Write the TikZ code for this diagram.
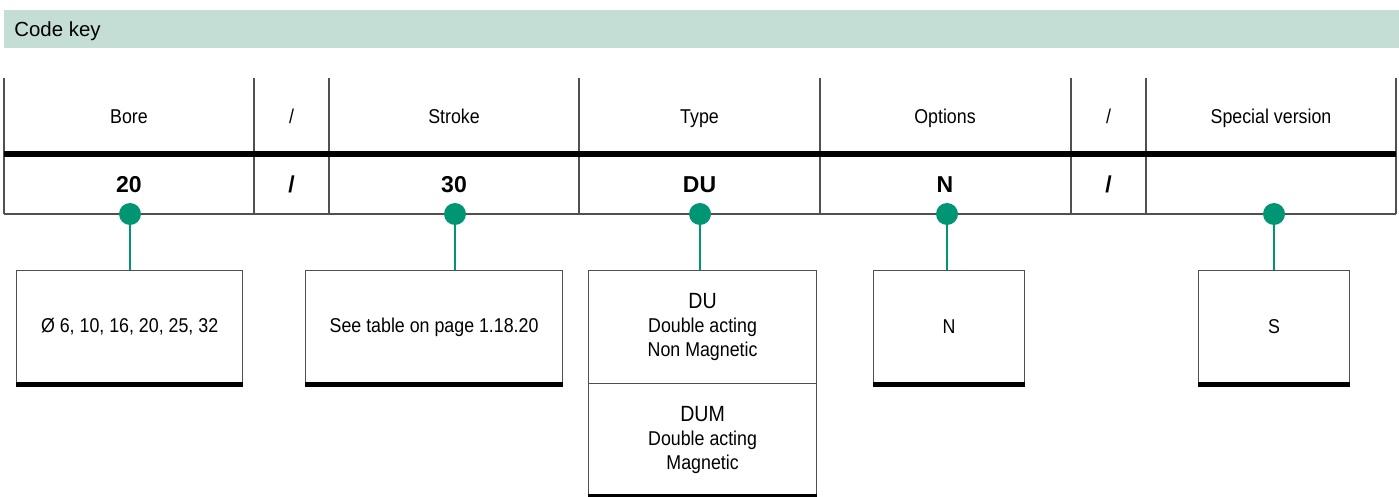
\documentclass[tikz,border=0pt]{standalone}
\usepackage{fontspec}
\setmainfont{Liberation Sans}
\newfontfamily\keyfont[FakeStretch=0.89]{Liberation Sans}
\definecolor{keyhead}{RGB}{197,222,213}
\definecolor{keygreen}{RGB}{0,150,115}
\definecolor{rulegray}{RGB}{80,80,80}

\begin{document}
\begin{tikzpicture}[x=0.5pt, y=-0.5pt,
    rule/.style={line width=0.6pt, rulegray},
    heavy/.style={line width=2.6pt, line cap=butt},
    label/.style={font=\keyfont\fontsize{10}{12}\selectfont, inner sep=0pt, anchor=base},
    code/.style={font=\fontsize{11.5}{13}\selectfont\bfseries, inner sep=0pt, anchor=base},
    dot/.style={circle, fill=keygreen, inner sep=0pt, minimum size=11pt},
    stem/.style={keygreen, line width=0.8pt},
    keybox/.style={draw=rulegray, line width=0.6pt, anchor=north west, align=center,
                   minimum height=56.5pt, font=\keyfont\fontsize{10}{12}\selectfont}]
  % One column of the code table: #1 = x-coordinate of its center, #2 = its name,
  % #3 = the heading, #4 = the code under the heavy rule.
  \newcommand{\keycolumn}[4]{%
    \node[label] (head-#2) at (#1,124) {#3};
    \node[code] (code-#2) at (#1,193) {#4};}

  \useasboundingbox (0,0) rectangle (1399,497);

  % title bar
  \fill[keyhead] (4,10) rectangle (1399,48);
  \node[inner sep=0pt, anchor=base west, font=\fontsize{10.2}{12}\selectfont] (title) at (14,37) {Code key};

  % table: column rules, heavy rule under the headings, bottom rule
  \foreach \x in {4,254,329,579,820,1071,1146,1396}
    \draw[rule] (\x,78) -- (\x,214);
  \draw[heavy] (4,154) -- (1396,154);
  \draw[rule] (4,214) -- (1396,214);

  \keycolumn{129}{bore}{Bore}{20}
  \keycolumn{291.5}{slasha}{/}{/}
  \keycolumn{454}{stroke}{Stroke}{30}
  \keycolumn{699.5}{type}{Type}{DU}
  \keycolumn{945}{options}{Options}{N}
  \keycolumn{1108.5}{slashb}{/}{/}
  \node[label] (head-special) at (1271,124) {Special version};

  % green markers on the bottom rule
  \foreach \x/\name in {130/bore, 455/stroke, 700/type, 947/options, 1274/special}
    \node[dot] (dot-\name) at (\x,214) {};

  % explanation boxes
  \node[keybox, minimum width=113pt] (box-bore) at (16,270) {Ø 6, 10, 16, 20, 25, 32};
  \node[keybox, minimum width=128.5pt] (box-stroke) at (305,270) {See table on page 1.18.20};
  \node[keybox, minimum width=114pt] (box-typea) at (588,270)
    {{\fontsize{11}{13}\selectfont DU}\\Double acting\\Non Magnetic};
  \node[keybox, minimum width=114pt, minimum height=56pt] (box-typeb) at (588,383)
    {{\fontsize{11}{13}\selectfont DUM}\\Double acting\\Magnetic};
  \node[keybox, minimum width=75.5pt] (box-options) at (873,270) {N};
  \node[keybox, minimum width=75.5pt] (box-special) at (1198,270) {S};

  % stems from the markers to the boxes
  \draw[stem] (dot-bore) -- (dot-bore |- box-bore.north);
  \draw[stem] (dot-stroke) -- (dot-stroke |- box-stroke.north);
  \draw[stem] (dot-type) -- (dot-type |- box-typea.north);
  \draw[stem] (dot-options) -- (dot-options |- box-options.north);
  \draw[stem] (dot-special) -- (dot-special |- box-special.north);

  % heavy base under each box
  \foreach \name in {bore, stroke, typeb, options, special}
    \draw[heavy] (box-\name.south west) -- (box-\name.south east);
\end{tikzpicture}
\end{document}
